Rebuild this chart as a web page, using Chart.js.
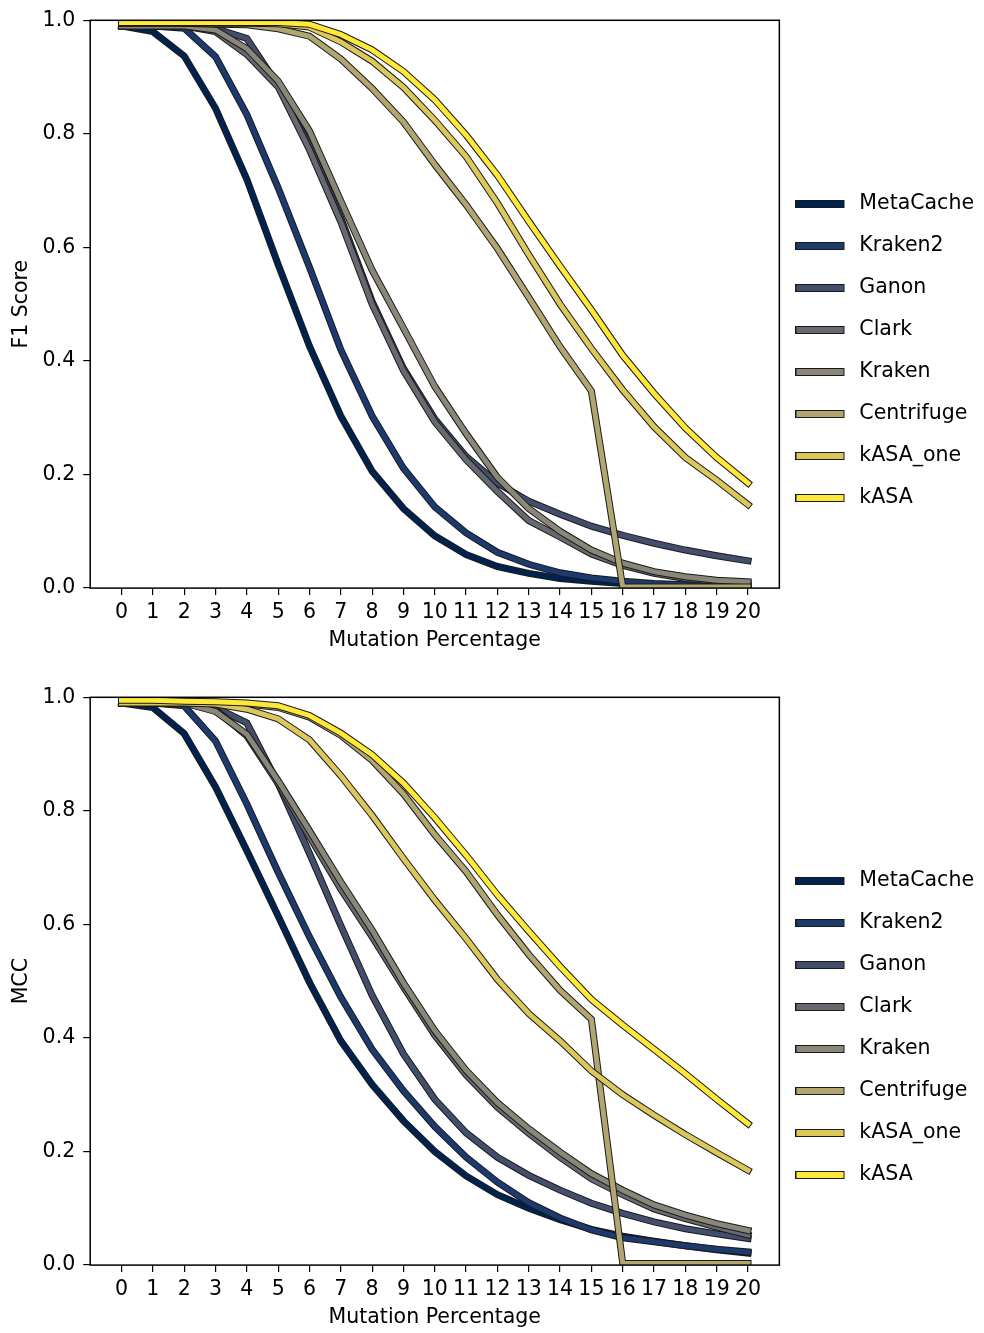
<!DOCTYPE html>
<html>
<head>
<meta charset="utf-8">
<script src="https://cdn.jsdelivr.net/npm/chart.js@4.4.1/dist/chart.umd.min.js"></script>
<style>
  html, body { margin: 0; padding: 0; background: #fff; overflow: hidden; }
  body { width: 984px; height: 1333px; position: relative; }
  canvas { position: absolute; left: 0; }
  #f1 { top: 0; }
  #mcc { top: 677px; }
</style>
</head>
<body>
<canvas id="f1" width="984" height="684"></canvas>
<canvas id="mcc" width="984" height="684"></canvas>
<script>
const mutation = [0, 1, 2, 3, 4, 5, 6, 7, 8, 9, 10, 11, 12, 13, 14, 15, 16, 17, 18, 19, 20];
const tools = ["MetaCache", "Kraken2", "Ganon", "Clark", "Kraken", "Centrifuge", "kASA_one", "kASA"];
const colors = ["#00224e", "#1d3a6f", "#434e6c", "#666970", "#8a8779", "#b1a570", "#dbc75a", "#fee838"];
const yTicks = [0, 0.2, 0.4, 0.6, 0.8, 1.0];

// F1 score per tool
const f1MetaCache = [0.99, 0.98, 0.937, 0.845, 0.72, 0.57, 0.426, 0.303, 0.206, 0.14, 0.092, 0.059, 0.038, 0.026, 0.017, 0.012, 0.008, 0.006, 0.004, 0.003, 0.002];
const f1Kraken2 = [0.99, 0.99, 0.986, 0.936, 0.834, 0.705, 0.565, 0.42, 0.303, 0.211, 0.143, 0.097, 0.063, 0.042, 0.027, 0.018, 0.012, 0.008, 0.006, 0.004, 0.003];
const f1Ganon = [0.99, 0.99, 0.99, 0.985, 0.968, 0.885, 0.78, 0.652, 0.505, 0.387, 0.298, 0.232, 0.185, 0.153, 0.13, 0.109, 0.093, 0.079, 0.067, 0.057, 0.048];
const f1Clark = [0.99, 0.99, 0.99, 0.98, 0.94, 0.883, 0.772, 0.645, 0.5, 0.383, 0.293, 0.226, 0.17, 0.119, 0.09, 0.06, 0.04, 0.026, 0.017, 0.012, 0.008];
const f1Kraken = [0.99, 0.99, 0.99, 0.983, 0.95, 0.893, 0.805, 0.682, 0.56, 0.458, 0.355, 0.272, 0.195, 0.14, 0.1, 0.067, 0.044, 0.029, 0.02, 0.014, 0.011];
const f1Centrifuge = [0.995, 0.995, 0.995, 0.993, 0.992, 0.985, 0.972, 0.932, 0.88, 0.821, 0.746, 0.675, 0.598, 0.512, 0.425, 0.347, 0.002, 0.002, 0.002, 0.002, 0.002];
const f1KasaOne = [0.995, 0.995, 0.995, 0.995, 0.995, 0.994, 0.988, 0.962, 0.928, 0.882, 0.824, 0.76, 0.678, 0.587, 0.5, 0.422, 0.349, 0.284, 0.23, 0.19, 0.147];
const f1Kasa = [0.996, 0.996, 0.996, 0.996, 0.996, 0.996, 0.993, 0.975, 0.948, 0.91, 0.86, 0.798, 0.727, 0.646, 0.567, 0.49, 0.41, 0.343, 0.282, 0.23, 0.185];

// MCC per tool
const mccMetaCache = [0.99, 0.982, 0.936, 0.842, 0.73, 0.615, 0.498, 0.395, 0.318, 0.254, 0.2, 0.157, 0.124, 0.1, 0.08, 0.063, 0.051, 0.042, 0.034, 0.027, 0.021];
const mccKraken2 = [0.99, 0.99, 0.985, 0.923, 0.812, 0.692, 0.578, 0.472, 0.38, 0.307, 0.244, 0.19, 0.146, 0.11, 0.083, 0.062, 0.048, 0.041, 0.034, 0.028, 0.023];
const mccGanon = [0.99, 0.99, 0.99, 0.982, 0.955, 0.848, 0.725, 0.598, 0.475, 0.372, 0.292, 0.233, 0.19, 0.158, 0.132, 0.109, 0.091, 0.076, 0.064, 0.055, 0.047];
const mccClark = [0.99, 0.99, 0.99, 0.978, 0.932, 0.848, 0.755, 0.662, 0.578, 0.49, 0.405, 0.335, 0.278, 0.232, 0.19, 0.152, 0.124, 0.099, 0.082, 0.067, 0.053];
const mccKraken = [0.99, 0.99, 0.99, 0.975, 0.935, 0.853, 0.765, 0.675, 0.59, 0.497, 0.413, 0.343, 0.286, 0.24, 0.199, 0.161, 0.132, 0.106, 0.088, 0.073, 0.061];
const mccCentrifuge = [0.99, 0.99, 0.99, 0.99, 0.988, 0.982, 0.965, 0.933, 0.889, 0.83, 0.758, 0.693, 0.617, 0.547, 0.484, 0.433, 0.003, 0.003, 0.003, 0.003, 0.003];
const mccKasaOne = [0.99, 0.99, 0.99, 0.988, 0.979, 0.962, 0.925, 0.862, 0.792, 0.716, 0.643, 0.575, 0.503, 0.443, 0.395, 0.342, 0.3, 0.264, 0.23, 0.198, 0.167];
const mccKasa = [0.995, 0.995, 0.993, 0.992, 0.99, 0.985, 0.968, 0.937, 0.899, 0.849, 0.788, 0.722, 0.652, 0.588, 0.526, 0.468, 0.423, 0.38, 0.337, 0.292, 0.249];

const f1Series = [f1MetaCache, f1Kraken2, f1Ganon, f1Clark, f1Kraken, f1Centrifuge, f1KasaOne, f1Kasa];
const mccSeries = [mccMetaCache, mccKraken2, mccGanon, mccClark, mccKraken, mccCentrifuge, mccKasaOne, mccKasa];

Chart.defaults.font.family = "'DejaVu Sans', sans-serif";
Chart.defaults.font.size = 20.5;
Chart.defaults.color = "#000";

// outlined legend swatch, bar on the left part of the image
function swatch(col) {
    const c = document.createElement("canvas");
    c.width = 59;
    c.height = 8;
    const g = c.getContext("2d");
    g.fillStyle = col;
    g.fillRect(0.5, 0.5, 48, 7);
    g.strokeStyle = "#1a1a1a";
    g.lineWidth = 1;
    g.strokeRect(0.5, 0.5, 48, 7);
    return c;
}
const swatches = colors.map(swatch);

// black edge under every line + frame round the axes
const outline = {
    id: "outline",
    beforeDatasetDraw(chart, args) {
        const pts = args.meta.data;
        const ctx = chart.ctx;
        const a = chart.chartArea;
        ctx.save();
        ctx.beginPath();
        ctx.rect(a.left, a.top, a.right - a.left, a.bottom - a.top);
        ctx.clip();
        ctx.beginPath();
        pts.forEach((p, i) => (i ? ctx.lineTo(p.x, p.y) : ctx.moveTo(p.x, p.y)));
        ctx.lineWidth = 7;
        ctx.strokeStyle = "#1a1a1a";
        ctx.lineJoin = "miter";
        ctx.lineCap = "square";
        ctx.stroke();
        ctx.restore();
    },
    afterDraw(chart) {
        const ctx = chart.ctx;
        const a = chart.chartArea;
        ctx.save();
        ctx.strokeStyle = "#000";
        ctx.lineWidth = 1.5;
        ctx.strokeRect(a.left, a.top, a.right - a.left, a.bottom - a.top);
        ctx.restore();
    },
};

function makeChart(id, yTitle, series) {
    return new Chart(document.getElementById(id), {
        type: "line",
        data: {
            datasets: tools.map((name, i) => ({
                label: name,
                data: mutation.map((x, j) => ({ x: x, y: series[i][j] })),
                borderColor: colors[i],
                backgroundColor: colors[i],
                borderWidth: 5,
                borderCapStyle: "square",
                borderJoinStyle: "miter",
                pointRadius: 0,
                tension: 0,
                order: tools.length - i,
                clip: 0,
            })),
        },
        options: {
            responsive: false,
            animation: false,
            layout: { padding: { top: 18, left: 0, right: 0, bottom: 0 } },
            plugins: {
                tooltip: { enabled: false },
                legend: {
                    position: "right",
                    align: "center",
                    labels: {
                        usePointStyle: true,
                        pointStyleWidth: 48.25,
                        padding: 21.5,
                        color: "#000",
                        generateLabels: (chart) =>
                            chart.data.datasets.map((ds, i) => ({
                                text: ds.label,
                                fillStyle: colors[i],
                                strokeStyle: "#1a1a1a",
                                lineWidth: 1,
                                pointStyle: swatches[i],
                                fontColor: "#000",
                                hidden: false,
                                datasetIndex: i,
                            })),
                    },
                },
            },
            scales: {
                x: {
                    type: "linear",
                    min: -1,
                    max: 21,
                    afterBuildTicks: (axis) => {
                        axis.ticks = mutation.map((v) => ({ value: v }));
                    },
                    ticks: { autoSkip: false, maxRotation: 0, padding: 5, callback: (v) => String(v) },
                    grid: { drawOnChartArea: false, color: "#000", lineWidth: 1.2, tickLength: 7 },
                    border: { display: false },
                    title: {
                        display: true,
                        text: "Mutation Percentage",
                        padding: { top: -1, bottom: 30.7 },
                    },
                },
                y: {
                    min: 0,
                    max: 1,
                    afterBuildTicks: (axis) => {
                        axis.ticks = yTicks.map((v) => ({ value: v }));
                    },
                    ticks: { padding: 8, callback: (v) => v.toFixed(1) },
                    grid: { drawOnChartArea: false, color: "#000", lineWidth: 1.2, tickLength: 7 },
                    border: { display: false },
                    title: {
                        display: true,
                        text: yTitle,
                        padding: { top: 9, bottom: 1 },
                    },
                },
            },
        },
        plugins: [outline],
    });
}

makeChart("f1", "F1 Score", f1Series);
makeChart("mcc", "MCC", mccSeries);
</script>
</body>
</html>
